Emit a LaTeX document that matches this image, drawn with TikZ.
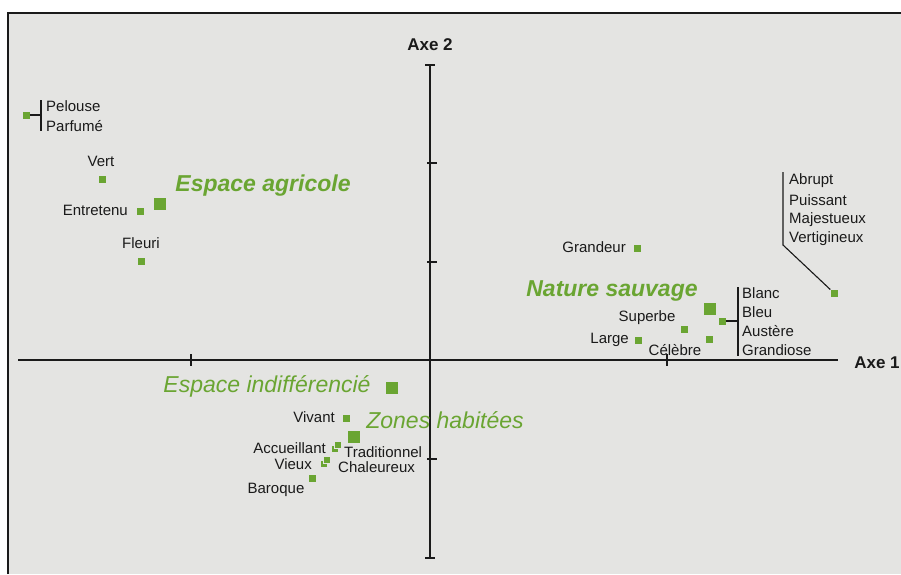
\documentclass[tikz,border=0pt]{standalone}
\usepackage{fontspec}
\setmainfont{Liberation Sans}
\usepackage{tikz}
\usetikzlibrary{positioning}
\definecolor{PlotGreen}{HTML}{6AA532}
\definecolor{PaperGrey}{HTML}{E4E4E2}
\definecolor{InkDark}{HTML}{1A1A1A}

\begin{document}
\begin{tikzpicture}[x=1pt,y=-1pt,
    every node/.style={font=\fontsize{15}{18}\selectfont, text=InkDark, inner sep=0pt},
    pt/.style={fill=PlotGreen, minimum size=7pt, inner sep=0pt},
    ptbig/.style={fill=PlotGreen, minimum size=12pt, inner sep=0pt},
    ptdup/.style={pt, draw=PaperGrey, line width=0.8pt},
    grp/.style={font=\fontsize{23}{27}\selectfont\itshape, text=PlotGreen},
    grpb/.style={font=\fontsize{23}{27}\selectfont\bfseries\itshape, text=PlotGreen},
    axlbl/.style={font=\fontsize{17}{20}\selectfont\bfseries},
    axis/.style={line width=1.6pt, InkDark},
    lk/.style={line width=1.1pt, InkDark}]
  \useasboundingbox (0,0) rectangle (901,574);
  % paper
  \fill[PaperGrey] (8,13) rectangle (901,574);
  \draw[line width=1.5pt, InkDark] (8,574) -- (8,13) -- (901,13);

  % axes
  \coordinate (xL) at (18,360); \coordinate (xR) at (838,360);
  \coordinate (yT) at (430,65); \coordinate (yB) at (430,558);
  \draw[axis] (xL) -- (xR);
  \draw[axis] (yT) -- (yB);
  \draw[axis] ([xshift=-5pt]yT) -- ([xshift=5pt]yT);
  \draw[axis] ([xshift=-5pt]yB) -- ([xshift=5pt]yB);
  \foreach \tx in {191,667} \draw[axis] (\tx,354) -- (\tx,366);
  \foreach \ty in {163,262,459} \draw[axis] (427,\ty) -- (437,\ty);
  \node[axlbl] (axe2) at (430,45) {Axe 2};
  \node[axlbl] (axe1) at (877,363) {Axe 1};

  % espace agricole
  \node[pt] (pelouse) at (26,115) {};
  \coordinate (brA) at (41,115);
  \coordinate (brAt) at (41,100); \coordinate (brAb) at (41,131);
  \draw[lk] (pelouse) -- (brA); \draw[lk] (brAt) -- (brAb);
  \node[anchor=west] (lpelouse) at (46,106) {Pelouse};
  \node[anchor=west] (lparfume) at (46,126) {Parfumé};
  \node[pt] (vert) at (102,179) {};
  \node (lvert) at (101,161) {Vert};
  \node[pt] (entretenu) at (140,211) {};
  \node[anchor=east] (lentretenu) at (128,210) {Entretenu};
  \node[pt] (fleuri) at (141,261) {};
  \node (lfleuri) at (141,243) {Fleuri};
  \node[ptbig] (agricole) at (160,204) {};
  \node[grpb] (lagricole) at (263,186) {Espace agricole};

  % nature sauvage
  \node[pt] (grandeur) at (637,248) {};
  \node[anchor=east] (lgrandeur) at (626,247) {Grandeur};
  \node[ptbig] (sauvage) at (710,309) {};
  \node[grpb] (lsauvage) at (612,291) {Nature sauvage};
  \node[pt] (blanc) at (722,321) {};
  \coordinate (brB) at (738,321);
  \coordinate (brBt) at (738,287); \coordinate (brBb) at (738,356);
  \draw[lk] (blanc) -- (brB); \draw[lk] (brBt) -- (brBb);
  \node[anchor=west] (lblanc) at (742,293) {Blanc};
  \node[anchor=west] (lbleu) at (742,312) {Bleu};
  \node[anchor=west] (laustere) at (742,331) {Austère};
  \node[anchor=west] (lgrandiose) at (742,350) {Grandiose};
  \node[pt] (superbe) at (684,329) {};
  \node (lsuperbe) at (647,318) {Superbe};
  \node[pt] (large) at (638,340) {};
  \node[anchor=east] (llarge) at (629,340) {Large};
  \node[pt] (celebre) at (709,339) {};
  \node (lcelebre) at (675,350) {Célèbre};
  \node[pt] (abrupt) at (834,293) {};
  \coordinate (brCk) at (783,245); \coordinate (brCt) at (783,172);
  \draw[lk] (abrupt) -- (brCk) -- (brCt);
  \node[anchor=west] (labrupt) at (789,181) {Abrupt};
  \node[anchor=west] (lpuissant) at (789,200) {Puissant};
  \node[anchor=west] (lmajest) at (789,220) {Majestueux};
  \node[anchor=west] (lvertig) at (789,239) {Vertigineux};

  % espace indifferencie, zones habitees
  \node[ptbig] (indiff) at (392,388) {};
  \node[grp] (lindiff) at (267,386) {Espace indifférencié};
  \node[pt] (vivant) at (346,418) {};
  \node[anchor=east] (lvivant) at (335,417) {Vivant};
  \node[ptbig] (habitees) at (354,437) {};
  \node[grp] (lhabitees) at (445,420) {Zones habitées};
  \node[ptdup] (accueil) at (335,449) {};
  \node[ptdup] (tradi) at (338,445) {};
  \node[anchor=east] (laccueil) at (326,448) {Accueillant};
  \node[anchor=west] (ltradi) at (344,452) {Traditionnel};
  \node[ptdup] (vieux) at (324,464) {};
  \node[ptdup] (chaleur) at (327,460) {};
  \node[anchor=east] (lvieux) at (312,464) {Vieux};
  \node[anchor=west] (lchaleur) at (338,467) {Chaleureux};
  \node[pt] (baroque) at (312,478) {};
  \node (lbaroque) at (276,490) {Baroque};
\end{tikzpicture}
\end{document}
